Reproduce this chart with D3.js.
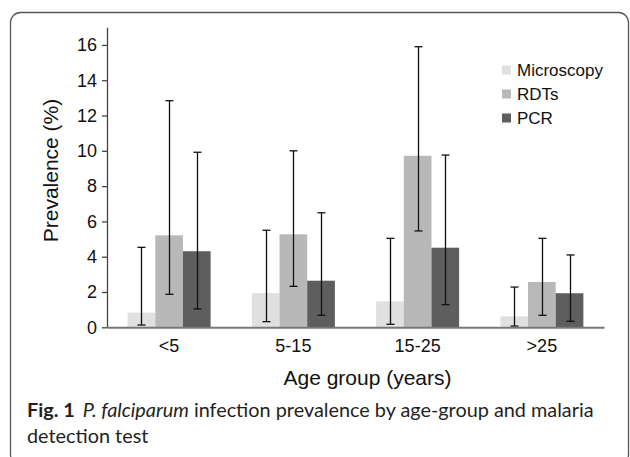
<!DOCTYPE html>
<html>
<head>
<meta charset="utf-8">
<script src="https://cdn.jsdelivr.net/npm/d3@7"></script>
<style>
  html, body { margin: 0; padding: 0; background: #fff; }
  svg { display: block; }
</style>
</head>
<body>
<svg id="chart" width="630" height="457"></svg>
<script>
// ---- data ----
const categories = ["<5", "5-15", "15-25", ">25"];
const seriesNames = ["Microscopy", "RDTs", "PCR"];
const microscopy     = [0.83, 1.94, 1.47, 0.62];
const microscopyLow  = [0.13, 0.32, 0.17, 0.07];
const microscopyHigh = [4.53, 5.50, 5.04, 2.28];
const rdts     = [5.21, 5.27, 9.72, 2.57];
const rdtsLow  = [1.87, 2.32, 5.46, 0.68];
const rdtsHigh = [12.84, 10.0, 15.9, 5.04];
const pcr     = [4.31, 2.64, 4.51, 1.93];
const pcrLow  = [1.04, 0.68, 1.28, 0.34];
const pcrHigh = [9.92, 6.49, 9.76, 4.10];
const yTicks = [0, 2, 4, 6, 8, 10, 12, 14, 16];
const yTitle = "Prevalence (%)";
const xTitle = "Age group (years)";
const captionBold = "Fig. 1";
const captionItalic = "P. falciparum";
const captionRest1 = " infection prevalence by age-group and malaria";
const captionLine2 = "detection test";

const colors = ["#e0e0e0", "#b8b8b8", "#5e5e5e"];

const seriesData = [
  {name: seriesNames[0], values: microscopy, low: microscopyLow, high: microscopyHigh},
  {name: seriesNames[1], values: rdts, low: rdtsLow, high: rdtsHigh},
  {name: seriesNames[2], values: pcr, low: pcrLow, high: pcrHigh}
];

const svg = d3.select("#chart");
const chartFont = "'Liberation Sans', Arial, sans-serif";

// frame
svg.append("rect")
  .attr("x", 10.5).attr("y", 12.5)
  .attr("width", 618).attr("height", 452)
  .attr("rx", 10).attr("ry", 10)
  .attr("fill", "none").attr("stroke", "#555").attr("stroke-width", 1.3);

// scales
const y = d3.scaleLinear().domain([0, 17]).range([327.3, 27.3]);
const x0 = d3.scaleBand().domain(categories).range([107, 604]).paddingInner(0).paddingOuter(0);
const groupW = x0.bandwidth() * 0.668;
const x1 = d3.scaleBand().domain(seriesNames).range([0, groupW]).padding(0);
const groupOffset = (x0.bandwidth() - groupW) / 2;

// bars
const groups = svg.append("g").selectAll("g")
  .data(seriesData).join("g")
  .attr("fill", (d, i) => colors[i]);

groups.selectAll("rect")
  .data(s => categories.map((c, i) => ({c, v: s.values[i], s: s.name})))
  .join("rect")
  .attr("x", d => x0(d.c) + groupOffset + x1(d.s))
  .attr("y", d => y(d.v))
  .attr("width", x1.bandwidth())
  .attr("height", d => y(0) - y(d.v));

// error bars
const eb = svg.append("g").attr("stroke", "#111").attr("stroke-width", 1.3);
seriesData.forEach(s => {
  categories.forEach((c, i) => {
    const cx = Math.round(x0(c) + groupOffset + x1(s.name) + x1.bandwidth() / 2) + 0.5;
    const lo = y(s.low[i]), hi = y(s.high[i]);
    eb.append("line").attr("x1", cx).attr("x2", cx).attr("y1", lo).attr("y2", hi);
    eb.append("line").attr("x1", cx - 4).attr("x2", cx + 4).attr("y1", lo).attr("y2", lo);
    eb.append("line").attr("x1", cx - 4).attr("x2", cx + 4).attr("y1", hi).attr("y2", hi);
  });
});

// y axis
const yAxis = svg.append("g")
  .attr("transform", "translate(107,0)")
  .call(d3.axisLeft(y).tickValues(yTicks).tickSize(5).tickSizeOuter(0).tickPadding(5).tickFormat(d3.format("d")));
yAxis.select(".domain").attr("stroke", "#444").attr("stroke-width", 1.3);
yAxis.selectAll(".tick line").attr("stroke", "#444").attr("stroke-width", 1.3);
yAxis.selectAll(".tick text").attr("font-family", chartFont).attr("font-size", 18).attr("fill", "#111");

// x axis
const xAxis = svg.append("g")
  .attr("transform", `translate(0,${y(0)})`)
  .call(d3.axisBottom(x0).tickSize(0).tickSizeOuter(0).tickPadding(12));
xAxis.select(".domain").attr("stroke", "#777").attr("stroke-width", 2);
xAxis.selectAll(".tick text").attr("font-family", chartFont).attr("font-size", 18).attr("fill", "#111");

// axis titles
svg.append("text")
  .attr("transform", "translate(58,170.5) rotate(-90)")
  .attr("text-anchor", "middle")
  .attr("font-family", chartFont).attr("font-size", 21).attr("fill", "#111")
  .text(yTitle);
svg.append("text")
  .attr("x", 367.5).attr("y", 385)
  .attr("text-anchor", "middle")
  .attr("font-family", chartFont).attr("font-size", 21).attr("fill", "#111")
  .text(xTitle);

// legend
const legend = svg.append("g").attr("transform", "translate(502,70)");
seriesNames.forEach((n, i) => {
  const g = legend.append("g").attr("transform", `translate(0,${i * 24})`);
  g.append("rect").attr("x", 0).attr("y", -4.5).attr("width", 9).attr("height", 9).attr("fill", colors[i]);
  g.append("text").attr("x", 15).attr("y", 6)
    .attr("font-family", chartFont).attr("font-size", 17).attr("fill", "#111")
    .text(n);
});

// caption
const capFont = "Lato, 'Open Sans', sans-serif";
const cap1 = svg.append("text")
  .attr("x", 27).attr("y", 417)
  .attr("font-family", capFont).attr("font-size", 17).attr("fill", "#231f20");
cap1.append("tspan").attr("font-weight", "bold").text(captionBold);
cap1.append("tspan").attr("dx", 8).attr("font-style", "italic").text(captionItalic);
cap1.append("tspan").text(captionRest1);
const target = 568;
const w = cap1.node().getComputedTextLength() + 8;
const fs = 17 * target / w;
cap1.attr("font-size", fs);
svg.append("text")
  .attr("x", 27).attr("y", 443)
  .attr("font-family", capFont).attr("font-size", fs).attr("fill", "#231f20")
  .text(captionLine2);
</script>
</body>
</html>
